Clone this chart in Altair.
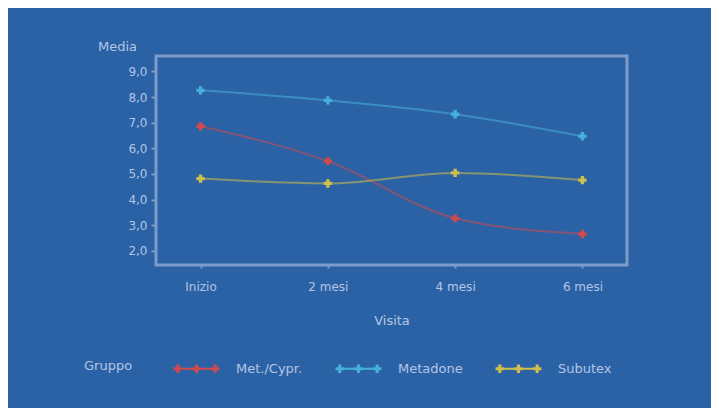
import altair as alt
import pandas as pd

visits = ["Inizio", "2 mesi", "4 mesi", "6 mesi"]
groups = ["Met./Cypr.", "Metadone", "Subutex"]
met_cypr = [6.86, 5.50, 3.27, 2.66]
metadone = [8.26, 7.87, 7.33, 6.47]
subutex = [4.82, 4.63, 5.04, 4.76]
y_ticks = [2, 3, 4, 5, 6, 7, 8, 9]
colors = ["#d0494f", "#47b0da", "#cfc04c"]

rows = []
for g, vals in zip(groups, [met_cypr, metadone, subutex]):
    for v, val in zip(visits, vals):
        rows.append({"Visita": v, "Gruppo": g, "Media": val})
df = pd.DataFrame(rows)

TXT = "#b3c5e6"
FRAME = "#7d9bcb"
FONT = "DejaVu Sans"

# legend symbol: thin line with three plus markers
def plus(cx, a=0.19, t=0.07):
    return (f"M{cx-t},{-a}L{cx+t},{-a}L{cx+t},{-t}L{cx+a},{-t}L{cx+a},{t}L{cx+t},{t}"
            f"L{cx+t},{a}L{cx-t},{a}L{cx-t},{t}L{cx-a},{t}L{cx-a},{-t}L{cx-t},{-t}Z")
sym_path = "M-0.95,-0.045L0.95,-0.045L0.95,0.045L-0.95,0.045Z" + plus(-0.83) + plus(0) + plus(0.83)

x_enc = alt.X("Visita:N", sort=visits,
              scale=alt.Scale(type="point", padding=0.35),
              axis=alt.Axis(title="Visita", labelAngle=0, domain=False,
                            tickSize=3, tickColor=FRAME, tickWidth=2,
                            labelPadding=13, labelFontSize=12,
                            titleY=55, titleBaseline="middle", titlePadding=0))
y_enc = alt.Y("Media:Q",
              scale=alt.Scale(domain=[1.45, 9.6], nice=False, zero=False),
              axis=alt.Axis(title="Media", values=y_ticks,
                            labelExpr="replace(format(datum.value, '.1f'), '.', ',')",
                            grid=False, domain=False, tickSize=5, tickColor=FRAME,
                            tickWidth=2, labelPadding=4, labelFontSize=12,
                            titleAngle=0, titleAlign="center", titleBaseline="middle",
                            titleX=-39, titleY=-10))

color_scale = alt.Scale(domain=groups, range=colors)

lines = alt.Chart(df).mark_line(interpolate="monotone", strokeWidth=2, opacity=0.55).encode(
    x=x_enc, y=y_enc,
    stroke=alt.Stroke("Gruppo:N", scale=color_scale, legend=None),
)
points = alt.Chart(df).mark_point(shape="cross", filled=True, size=70, opacity=1).encode(
    x=x_enc, y=y_enc,
    color=alt.Color("Gruppo:N", scale=color_scale,
                    legend=alt.Legend(title="Gruppo", orient="none", direction="horizontal",
                                      legendX=-72, legendY=289, titleOrient="left",
                                      titleAnchor="middle", titleBaseline="top",
                                      titlePadding=40, symbolType=sym_path, symbolSize=2025,
                                      labelOffset=16, columnPadding=32,
                                      titleFontSize=13, labelFontSize=13,
                                      titleFontWeight="normal")),
)

chart = alt.layer(lines, points).resolve_scale(color="independent").properties(
    width=471, height=209,
    autosize=alt.AutoSizeParams(type="none"),
    padding={"left": 148, "top": 48, "right": 84, "bottom": 143},
    background="#2b62a5",
).configure_view(
    stroke=FRAME, strokeWidth=3,
).configure_axis(
    labelColor=TXT, titleColor=TXT, labelFont=FONT, titleFont=FONT,
    titleFontWeight="normal", titleFontSize=13,
).configure_legend(
    labelColor=TXT, titleColor=TXT, labelFont=FONT, titleFont=FONT,
)

chart.save("out.html", embed_options={"renderer": "svg", "actions": False})
